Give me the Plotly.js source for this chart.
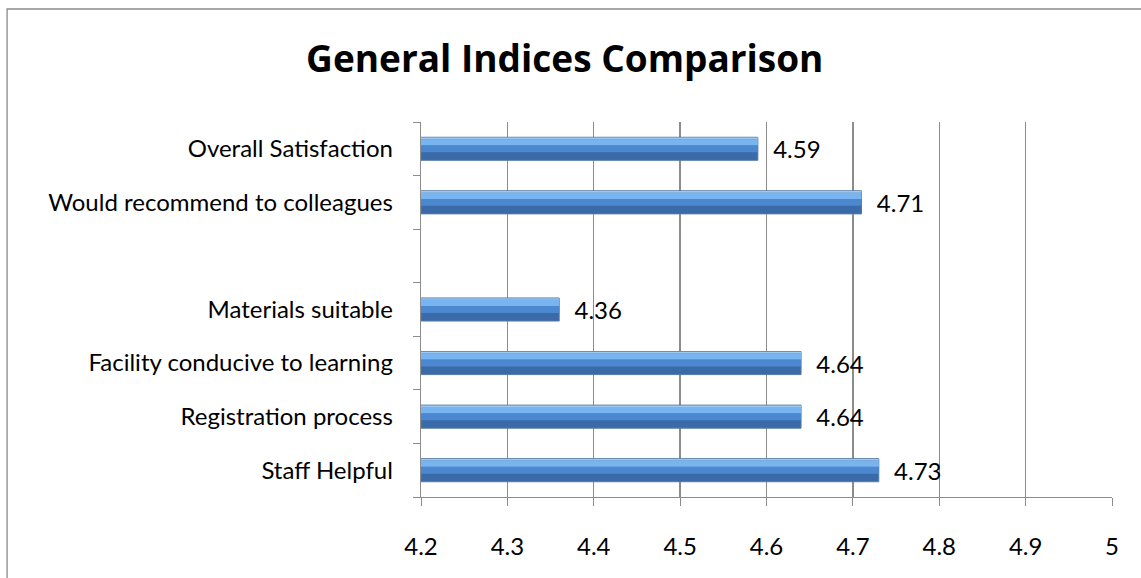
<!DOCTYPE html>
<html>
<head>
<meta charset="utf-8">
<script src="https://cdn.plot.ly/plotly-3.0.1.min.js"></script>
<style>
  html, body { margin: 0; padding: 0; background: #fff; }
  #chart { width: 1141px; height: 578px; }
</style>
</head>
<body>
<div id="chart"></div>
<script>
// bottom to top, blank row between the two groups
const categories = ['Staff Helpful', 'Registration process', 'Facility conducive to learning',
    'Materials suitable', ' ', 'Would recommend to colleagues', 'Overall Satisfaction'];
const scores = [4.73, 4.64, 4.64, 4.36, null, 4.71, 4.59];
const xTicks = [4.2, 4.3, 4.4, 4.5, 4.6, 4.7, 4.8, 4.9, 5];

const font = 'Lato, "Open Sans", sans-serif';
const gridGrey = '#8c8c8c';
const lengths = scores.map(v => v === null ? null : v - 4.2);

// bar body plus lighter bands on top to fake the bevelled look
function band(offset, width, color) {
    return {
        type: 'bar',
        orientation: 'h',
        y: categories,
        x: lengths,
        base: 4.2,
        offset: offset,
        width: width,
        marker: { color: color, line: { width: 0 } },
        hoverinfo: 'skip'
    };
}

const body = {
    type: 'bar',
    orientation: 'h',
    y: categories,
    x: lengths,
    base: 4.2,
    width: 0.43,
    marker: { color: '#3a6aa8', line: { color: '#557aa3', width: 1 } },
    text: scores.map(v => v === null ? '' : '\u00a0\u00a0' + v.toFixed(2)),
    textposition: 'outside',
    constraintext: 'none',
    cliponaxis: false,
    textfont: { family: font, size: 24, color: '#000' },
    hoverinfo: 'skip'
};

const layout = {
    width: 1141,
    height: 578,
    margin: { l: 421, r: 29, t: 122, b: 81 },
    paper_bgcolor: '#fff',
    plot_bgcolor: '#fff',
    showlegend: false,
    barmode: 'overlay',
    font: { family: font, color: '#000' },
    title: {
        text: '<b>General Indices Comparison</b>',
        font: { family: '"Open Sans", sans-serif', size: 37, color: '#000' },
        x: 0.495,
        xanchor: 'center',
        y: 0.897,
        yanchor: 'middle'
    },
    xaxis: {
        range: [4.2, 5],
        tickvals: xTicks,
        ticktext: xTicks.map(String),
        showgrid: true,
        gridcolor: gridGrey,
        gridwidth: 1.3,
        showline: true,
        linecolor: gridGrey,
        linewidth: 1.3,
        ticks: 'outside',
        ticklen: 8,
        tickcolor: gridGrey,
        ticklabelstandoff: 20,
        tickfont: { family: font, size: 24 },
        zeroline: false,
        fixedrange: true
    },
    yaxis: {
        type: 'category',
        categoryorder: 'array',
        categoryarray: categories,
        range: [-0.5, 6.5],
        showline: true,
        linecolor: gridGrey,
        linewidth: 1.3,
        ticks: 'outside',
        tickson: 'boundaries',
        ticklen: 7,
        tickcolor: gridGrey,
        ticklabelstandoff: 22,
        tickfont: { family: font, size: 24 },
        showgrid: false,
        fixedrange: true
    },
    // outer chart frame, only left and top edges fall inside the picture
    shapes: [{
        type: 'rect',
        xref: 'paper', yref: 'paper',
        x0: -0.599, x1: 1.2, y0: -0.4, y1: 1.3013,
        line: { color: '#8a8a8a', width: 1.3 },
        fillcolor: 'rgba(0,0,0,0)',
        layer: 'below'
    }]
};

const traces = [
    body,
    band(-0.065, 0.13, '#4c88cf'),
    band(0.065, 0.115, '#78b4ef'),
    band(0.18, 0.03, '#9cc8f2')
];

Plotly.newPlot('chart', traces, layout, { staticPlot: true });
</script>
</body>
</html>
